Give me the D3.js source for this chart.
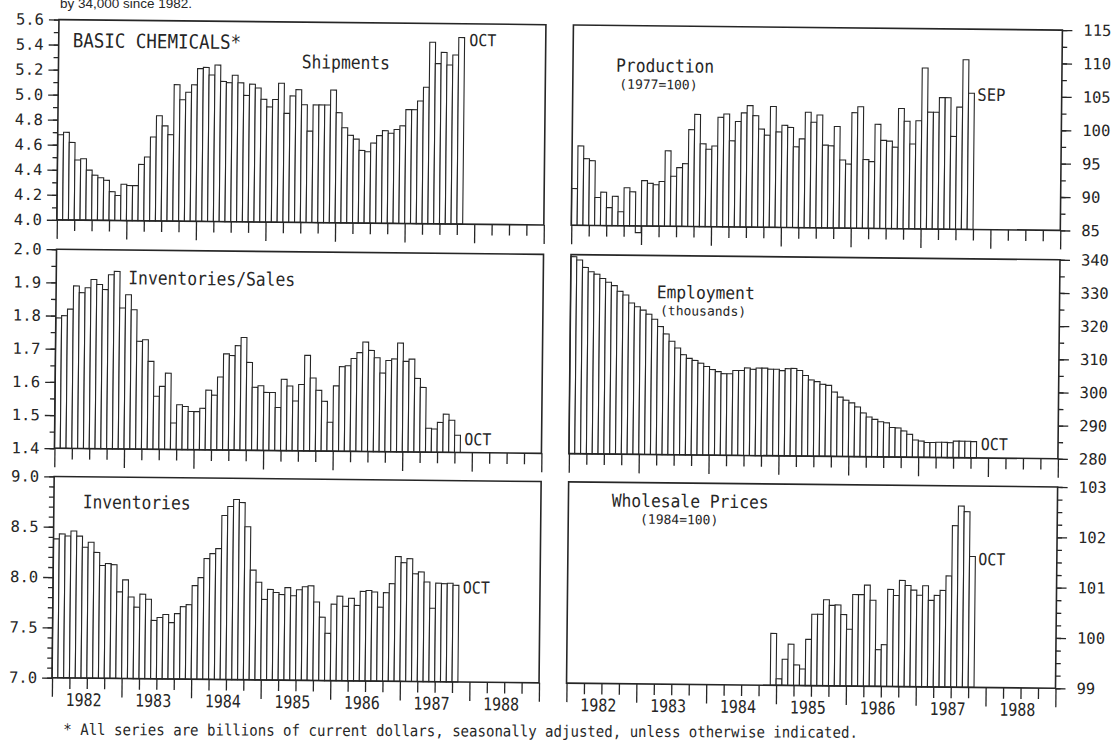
<!DOCTYPE html>
<html>
<head>
<meta charset="utf-8">
<script src="https://cdn.jsdelivr.net/npm/d3@7"></script>
<style>
  body { margin: 0; background: #fff; }
  text { fill: #262626; }
</style>
</head>
<body>
<div id="viz"></div>
<script>
// monthly values, first bar = Jan 1982
var years = ["1982", "1983", "1984", "1985", "1986", "1987", "1988"];

var shipments = [4.68, 4.70, 4.62, 4.48, 4.49, 4.40, 4.36, 4.34, 4.32, 4.23, 4.20, 4.29,
    4.28, 4.28, 4.45, 4.51, 4.67, 4.84, 4.76, 4.69, 5.09, 4.97, 5.03, 5.09,
    5.22, 5.23, 5.17, 5.25, 5.12, 5.11, 5.17, 5.11, 5.01, 5.10, 5.07, 4.98,
    4.92, 4.98, 5.11, 4.87, 5.01, 5.06, 4.94, 4.73, 4.94, 4.94, 4.94, 5.06,
    4.88, 4.76, 4.70, 4.67, 4.58, 4.57, 4.64, 4.70, 4.74, 4.72, 4.75, 4.78,
    4.91, 4.91, 4.98, 5.09, 5.45, 5.28, 5.37, 5.27, 5.35, 5.49];

var production = [90.5, 96.9, 95.0, 94.7, 89.2, 90.0, 87.7, 89.4, 87.1, 90.7, 90.1, 84.0,
    91.8, 91.4, 91.2, 91.7, 96.3, 92.5, 93.8, 94.4, 99.5, 101.8, 97.4, 96.6,
    97.1, 101.4, 101.9, 97.9, 100.8, 102.1, 103.2, 101.7, 99.7, 98.8, 103.1, 99.3,
    100.3, 100.0, 97.1, 98.3, 102.3, 100.8, 101.9, 97.4, 97.3, 100.2, 95.2, 94.6,
    102.3, 103.2, 95.3, 95.0, 100.6, 98.2, 98.1, 97.2, 103.0, 101.1, 97.7, 101.2,
    109.1, 102.5, 102.5, 104.7, 104.7, 98.9, 103.3, 110.4, 105.4];

var invSales = [1.793, 1.80, 1.82, 1.89, 1.87, 1.885, 1.91, 1.895, 1.88, 1.925, 1.935, 1.825,
    1.865, 1.82, 1.725, 1.73, 1.665, 1.56, 1.59, 1.63, 1.48, 1.535, 1.53, 1.515,
    1.515, 1.525, 1.58, 1.565, 1.62, 1.69, 1.685, 1.715, 1.74, 1.665, 1.59, 1.595,
    1.575, 1.575, 1.53, 1.615, 1.595, 1.55, 1.60, 1.688, 1.62, 1.583, 1.55, 1.487,
    1.597, 1.655, 1.658, 1.68, 1.698, 1.73, 1.705, 1.683, 1.637, 1.675, 1.68, 1.728,
    1.673, 1.68, 1.622, 1.595, 1.472, 1.47, 1.49, 1.515, 1.497, 1.452];

var employment = [339.4, 338.4, 336.2, 334.9, 334.2, 332.9, 331.8, 330.8, 329.1, 328.0, 325.6, 324.5,
    323.5, 322.3, 320.8, 318.6, 316.4, 314.2, 312.2, 310.2, 309.1, 308.5, 307.7, 306.7,
    305.8, 305.2, 304.6, 304.6, 305.6, 305.6, 306.4, 306.0, 306.4, 306.4, 306.1, 306.1,
    305.7, 306.3, 306.4, 305.8, 304.3, 303.0, 302.5, 301.7, 301.4, 299.4, 297.9, 297.0,
    296.2, 295.0, 293.2, 292.0, 291.3, 290.6, 290.3, 288.9, 288.8, 287.9, 286.9, 285.2,
    284.9, 284.5, 284.5, 284.6, 284.6, 284.5, 285.0, 285.0, 285.0, 284.9];

var inventories = [8.38, 8.43, 8.41, 8.46, 8.41, 8.30, 8.35, 8.25, 8.12, 8.14, 8.13, 7.86,
    7.98, 7.81, 7.71, 7.84, 7.79, 7.58, 7.61, 7.64, 7.56, 7.65, 7.72, 7.74,
    7.93, 8.01, 8.20, 8.25, 8.30, 8.63, 8.72, 8.79, 8.76, 8.52, 8.09, 7.97,
    7.80, 7.90, 7.87, 7.85, 7.92, 7.84, 7.90, 7.93, 7.94, 7.78, 7.63, 7.47,
    7.76, 7.84, 7.74, 7.82, 7.75, 7.89, 7.90, 7.885, 7.735, 7.88, 7.97, 8.24,
    8.18, 8.22, 8.07, 8.09, 7.99, 7.73, 7.98, 7.975, 7.98, 7.96];

// wholesale prices start Dec 1984
var wholesaleStart = 35;
var wholesale = [100.03, 99.13, 99.52, 99.82, 99.41, 99.33, 99.92, 100.42, 100.42, 100.71, 100.60, 100.61,
    100.42, 100.13, 100.82, 100.82, 101.01, 100.71, 99.73, 99.83, 100.93, 100.81, 101.11, 101.01,
    100.92, 100.82, 101.01, 100.72, 100.82, 100.92, 101.21, 102.21, 102.60, 102.49, 101.60];

// y tick labels
var shipTicks = [4.0, 4.2, 4.4, 4.6, 4.8, 5.0, 5.2, 5.4, 5.6];
var prodTicks = [85, 90, 95, 100, 105, 110, 115];
var ratioTicks = [1.4, 1.5, 1.6, 1.7, 1.8, 1.9, 2.0];
var empTicks = [280, 290, 300, 310, 320, 330, 340];
var invTicks = [7.0, 7.5, 8.0, 8.5, 9.0];
var priceTicks = [99, 100, 101, 102, 103];

// panel frames
var cols = [{ x0: 55.3, x1: 542.3 }, { x0: 569.8, x1: 1058.8 }];
var rows = [{ y0: 24.8, y1: 225.1 }, { y0: 254.5, y1: 453.5 }, { y0: 481.7, y1: 683 }];

var panels = [
    { col: 0, row: 0, data: shipments, start: 0, domain: [4.0, 5.6], major: shipTicks, minor: 0.1, fmt: ".1f" },
    { col: 1, row: 0, data: production, start: 0, domain: [85, 115], major: prodTicks, minor: 2.5, fmt: "d" },
    { col: 0, row: 1, data: invSales, start: 0, domain: [1.4, 2.0], major: ratioTicks, minor: 0.05, fmt: ".1f" },
    { col: 1, row: 1, data: employment, start: 0, domain: [280, 340], major: empTicks, minor: 5, fmt: "d" },
    { col: 0, row: 2, data: inventories, start: 0, domain: [7.0, 9.0], major: invTicks, minor: 0.1, fmt: ".1f" },
    { col: 1, row: 2, data: wholesale, start: wholesaleStart, domain: [99, 103], major: priceTicks, minor: 0.25, fmt: "d" }
];

// titles and end-month notes: [x, y, text, size, stretch]
var notes = [
    [69.3, 52.4, "BASIC CHEMICALS*", 17.5, 1.12],
    [298.5, 71, "Shipments", 16.3, 1.14],
    [465.9, 46.9, "OCT", 15, 1.1],
    [612.9, 71.1, "Production", 16.3, 1.12],
    [616.3, 88, "(1977=100)", 13, 1.0],
    [974.5, 96.3, "SEP", 15.5, 1.1],
    [127.4, 288.8, "Inventories/Sales", 16.3, 1.14],
    [465.1, 446, "OCT", 15, 1.1],
    [655.9, 297.2, "Employment", 16.3, 1.08],
    [659.4, 314, "(thousands)", 13, 1.0],
    [981.5, 445.5, "OCT", 15, 1.1],
    [84.1, 513.3, "Inventories", 16.3, 1.14],
    [465, 594.3, "OCT", 15, 1.1],
    [613.1, 506.1, "Wholesale Prices", 16.3, 1.1],
    [641.6, 522.8, "(1984=100)", 13, 1.0],
    [980.3, 560.6, "OCT", 15, 1.1]
];

var ink = "#262626";
var mono = "DejaVu Sans Mono";

var svg = d3.select("#viz")
    .append("svg")
    .attr("width", 1113)
    .attr("height", 742);

svg.append("rect").attr("width", 1113).attr("height", 742).attr("fill", "#fff");

// the scanned page is slightly tilted
var page = svg.append("g")
    .attr("transform", "rotate(0.6, 556, 371)");

function label(g, x, y, str, size, stretch, anchor) {
    g.append("text")
        .attr("transform", "translate(" + x + "," + y + ") scale(1," + stretch + ")")
        .attr("text-anchor", anchor || "start")
        .style("font-family", mono)
        .style("font-size", size + "px")
        .text(str);
}

panels.forEach(function (p) {
    var c = cols[p.col], r = rows[p.row];

    var x = d3.scaleLinear().domain([0, 84]).range([c.x0, c.x1]);
    var y = d3.scaleLinear().domain(p.domain).range([r.y1, r.y0]);

    var g = page.append("g");

    // bars, one per month
    g.selectAll("rect.bar")
        .data(p.data)
        .enter()
        .append("rect")
        .attr("class", "bar")
        .attr("x", function (d, i) { return x(p.start + i) })
        .attr("width", function (d, i) { return x(p.start + i + 1) - x(p.start + i) })
        .attr("y", function (d) { return Math.min(y(d), y(p.domain[0])) })
        .attr("height", function (d) { return Math.abs(y(p.domain[0]) - y(d)) })
        .attr("fill", "#fff")
        .attr("stroke", ink)
        .attr("stroke-width", 1.1);

    // frame
    g.append("rect")
        .attr("x", c.x0).attr("y", r.y0)
        .attr("width", c.x1 - c.x0).attr("height", r.y1 - r.y0)
        .attr("fill", "none")
        .attr("stroke", ink)
        .attr("stroke-width", 1.6);

    // y axis, left on the left column, right on the right column
    var minorVals = d3.range(p.domain[0], p.domain[1] + 1e-6, p.minor);
    var axisFn = p.col === 0 ? d3.axisLeft : d3.axisRight;
    var ax = p.col === 0 ? c.x0 : c.x1;

    g.append("g")
        .attr("transform", "translate(" + ax + ",0)")
        .call(axisFn(y).tickValues(minorVals).tickSize(5).tickFormat(""))
        .call(function (s) { s.select(".domain").remove() });

    var yAxis = g.append("g")
        .attr("transform", "translate(" + ax + ",0)")
        .call(axisFn(y).tickValues(p.major).tickSize(10)
            .tickPadding(p.col === 0 ? 5 : 11)
            .tickFormat(d3.format(p.fmt)));
    yAxis.select(".domain").remove();
    yAxis.selectAll("text")
        .style("font-family", mono)
        .style("font-size", "15.5px")
        .attr("fill", ink);

    // month axis: quarters and years
    var xAxis = d3.axisBottom(x).tickFormat("");
    g.append("g")
        .attr("transform", "translate(0," + r.y1 + ")")
        .call(xAxis.tickValues(d3.range(0, 85, 3).filter(function (m) { return m % 12 })).tickSize(11))
        .call(function (s) { s.select(".domain").remove() });
    g.append("g")
        .attr("transform", "translate(0," + r.y1 + ")")
        .call(xAxis.tickValues(d3.range(0, 85, 12)).tickSize(19))
        .call(function (s) { s.select(".domain").remove() });

    g.selectAll(".tick line").attr("stroke", ink).attr("stroke-width", 1.3);

    // year labels under the bottom row
    if (p.row === 2) {
        years.forEach(function (yr, i) {
            label(g, x(12 * i + 6) - 3, 711, yr, 15, 1.18, "middle");
        });
    }
});

notes.forEach(function (n) {
    label(page, n[0], n[1], n[2], n[3], n[4]);
});

// footnote and the cut-off line of text above the chart
svg.append("g")
    .attr("transform", "rotate(0.2, 63, 735)")
    .call(function (g) {
        label(g, 63.3, 735, "* All series are billions of current dollars, seasonally adjusted, unless otherwise indicated.", 14.05, 1.12);
    });

svg.append("text")
    .attr("x", 60)
    .attr("y", 8)
    .style("font-family", "Liberation Sans")
    .style("font-size", "13.5px")
    .attr("fill", ink)
    .text("by 34,000 since 1982.");
</script>
</body>
</html>
